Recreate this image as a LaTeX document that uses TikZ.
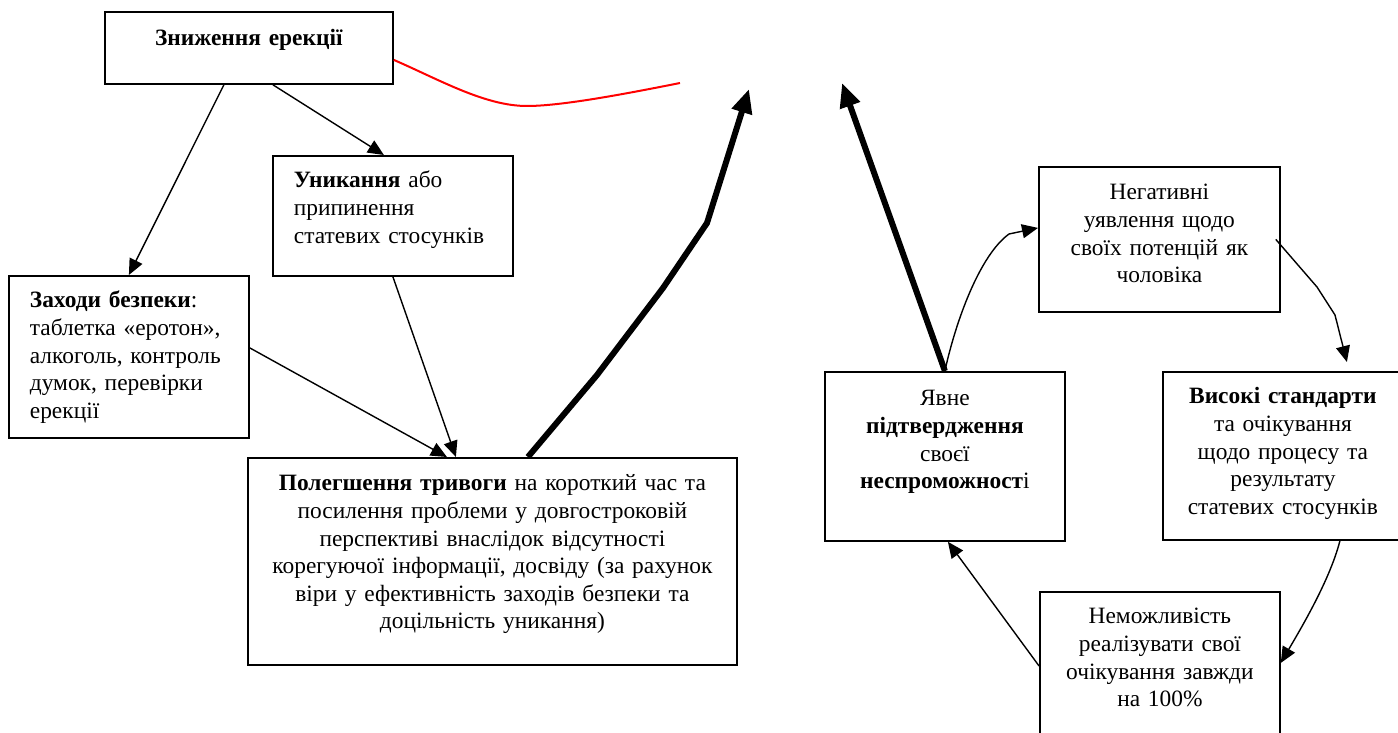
\documentclass[tikz,border=0pt]{standalone}
\usepackage{fontspec}
\setmainfont{Liberation Serif}
\usetikzlibrary{arrows.meta,positioning}

\begin{document}
\begin{tikzpicture}[
    x=0.5pt, y=-0.5pt,
    every node/.style={font=\fontsize{11.7}{13.8}\selectfont},
    box/.style={draw, line width=0.9pt, anchor=north west, inner xsep=10.5pt, inner ysep=0pt, text height=16pt, text width=99pt},
    leftbox/.style={box, align=left},
    midbox/.style={box, align=center},
    flow/.style={-{Triangle[length=8pt,width=7pt]}, line width=0.7pt},
    boldflow/.style={-{Triangle[length=12pt,width=10pt]}, line width=3pt},
    lure/.style={red, line width=1pt}
]
\useasboundingbox (0,0) rectangle (1398,733);

\node[midbox, text width=123pt, text height=17pt, text depth=19pt] (drop) at (104,11) {\textbf{Зниження ерекції}};
\node[leftbox, text depth=44pt] (avoid) at (272,155) {\textbf{Уникання} або\\припинення\\статевих стосунків};
\node[leftbox, text depth=65pt] (safety) at (8,275) {\textbf{Заходи безпеки}:\\таблетка «еротон»,\\алкоголь, контроль\\думок, перевірки\\ерекції};
\node[midbox, inner xsep=3pt, text width=238.5pt, text height=16.5pt, text depth=87pt] (relief) at (247,457) {\textbf{Полегшення тривоги} на короткий час та\\посилення проблеми у довгостроковій\\перспективі внаслідок відсутності\\корегуючої інформації, досвіду (за рахунок\\віри у ефективність заходів безпеки та\\доцільність уникання)};
\node[midbox, text height=17pt, text depth=67.5pt] (confirm) at (824,371) {Явне\\\textbf{підтвердження}\\своєї\\\textbf{неспроможност}і};
\node[midbox, text width=99.5pt, text height=16.5pt, text depth=56pt] (negative) at (1038,166) {Негативні\\уявлення щодо\\своїх потенцій як\\чоловіка};
\node[midbox, text depth=68pt] (high) at (1162,371) {\textbf{Високі стандарти}\\та очікування\\щодо процесу та\\результату\\статевих стосунків};
\node[midbox, text depth=68.5pt] (impossible) at (1039,591) {Неможливість\\реалізувати свої\\очікування завжди\\на 100\%};

\coordinate (lefttip) at (749,89);
\coordinate (righttip) at (842,83);
\coordinate (lureend) at (680,83);

% left part
\draw[flow] ([xshift=-12.5pt]drop.south) -- (safety.north);
\draw[flow] ([xshift=12pt]drop.south) -- ([xshift=-4.5pt]avoid.north);
\draw[flow] ([yshift=4.5pt]safety.east) -- ([xshift=-22.75pt]relief.north);
\draw[flow] (avoid.south) -- ([xshift=-18.25pt]relief.north);
\draw[boldflow] ([xshift=17.75pt]relief.north) -- (597,375) -- (663,288) -- (707,223) -- (lefttip);
\draw[lure] ([yshift=-6pt]drop.east) .. controls (440,80) and (485,106) .. (527,106) .. controls (560,106) and (620,95) .. (lureend);

% right cycle
\draw[boldflow] (confirm.north) -- (righttip);
\draw[flow] (confirm.north) .. controls (956,320) and (980,255) .. (1009,234) -- ([yshift=5.75pt]negative.west);
\draw[flow] ([xshift=-2.5pt]negative.east) -- (1317,287) -- (1335,315) -- ([xshift=32pt,yshift=4.5pt]high.north);
\draw[flow] ([xshift=28.5pt]high.south) .. controls (1330,580) and (1300,630) .. ([yshift=6.75pt]impossible.east);
\draw[flow] ([yshift=5.25pt]impossible.west) -- ([xshift=1.5pt]confirm.south);
\end{tikzpicture}
\end{document}
